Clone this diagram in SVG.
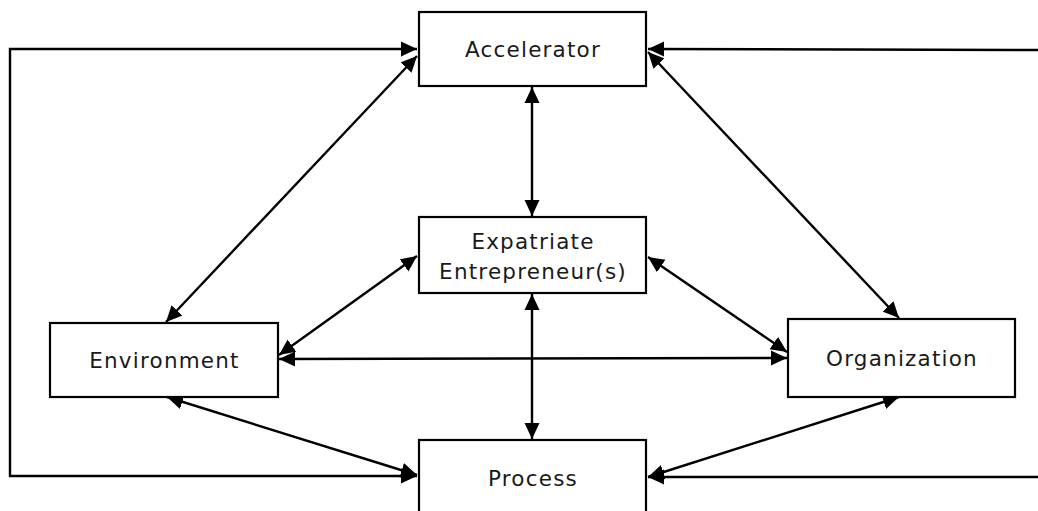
<svg xmlns="http://www.w3.org/2000/svg" width="1038" height="511" viewBox="0 0 1038 511">
<style>
.box{fill:#fff;stroke:#000;stroke-width:2.2}
.lbl{font-family:"DejaVu Sans","Liberation Sans",sans-serif;font-size:21.5px;letter-spacing:1.2px;fill:#1a1a1a;text-anchor:middle}
.c{fill:none;stroke:#000;stroke-width:2.4}
.b{marker-start:url(#ah);marker-end:url(#ah)}
.e{marker-end:url(#ah)}
</style>
<defs>
<marker id="ah" markerUnits="userSpaceOnUse" markerWidth="18" markerHeight="16" viewBox="0 0 18 16" refX="16" refY="8" orient="auto-start-reverse">
<path d="M0,0.5 L16,8 L0,15.5 Z" fill="#000"/>
</marker>
</defs>
<rect width="1038" height="511" fill="#fff"/>
<g id="connectors">
<path class="c b" d="M417,49 H10 V476 H417"/>
<path class="c e" d="M1038,50 L648,49"/>
<path class="c e" d="M1038,477 L648,477"/>
<path class="c b" d="M417,56 L166,322"/>
<path class="c b" d="M648,52 L899,318"/>
<path class="c b" d="M532,87 L532,216"/>
<path class="c b" d="M532,294 L532,439"/>
<path class="c b" d="M417,256 L279,355"/>
<path class="c b" d="M648,257 L787,352"/>
<path class="c b" d="M279,359 L787,358"/>
<path class="c b" d="M167,397 L417,475"/>
<path class="c b" d="M899,397 L648,477"/>
</g>
<g id="accelerator">
<rect class="box" x="419" y="12" width="227" height="74"/>
<text class="lbl" x="533" y="57">Accelerator</text>
</g>
<g id="expatriate">
<rect class="box" x="419" y="217" width="227" height="76"/>
<text class="lbl" x="533" y="249">Expatriate</text>
<text class="lbl" x="533" y="279">Entrepreneur(s)</text>
</g>
<g id="environment">
<rect class="box" x="50" y="323" width="228" height="74"/>
<text class="lbl" x="164.5" y="368">Environment</text>
</g>
<g id="organization">
<rect class="box" x="788" y="319" width="227" height="78"/>
<text class="lbl" x="902" y="366">Organization</text>
</g>
<g id="process">
<rect class="box" x="419" y="440" width="227" height="80"/>
<text class="lbl" x="533" y="486">Process</text>
</g>
</svg>
